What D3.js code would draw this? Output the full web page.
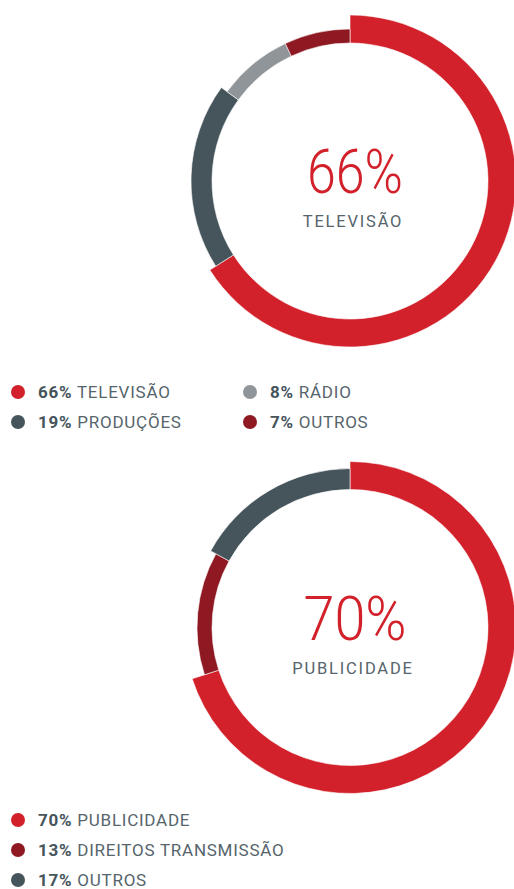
<!DOCTYPE html>
<html>
<head>
<meta charset="utf-8">
<script src="https://cdn.jsdelivr.net/npm/d3@7"></script>
<style>
  html, body { margin: 0; padding: 0; background: #fff; }
  svg { display: block; }
  text { font-family: Roboto, "Noto Sans", sans-serif; }
</style>
</head>
<body>
<svg id="chart" width="514" height="889"></svg>
<script>
// ---- data ----
const chart1Labels = ["TELEVISÃO", "PRODUÇÕES", "RÁDIO", "OUTROS"];
const chart1Values = [66, 19, 8, 7];
const chart1Colors = ["#d2212b", "#46555c", "#8f9599", "#8e1922"];
const chart1Thick  = [28, 21, 14, 14];
const chart1LegendOrder = [0, 2, 1, 3]; // grid: row-major in 2 columns

const chart2Labels = ["PUBLICIDADE", "DIREITOS TRANSMISSÃO", "OUTROS"];
const chart2Values = [70, 13, 17];
const chart2Colors = ["#d2212b", "#8e1922", "#46555c"];
const chart2Thick  = [28, 15, 21];

const svg = d3.select("#chart");
const innerR = 138;

function donut(cx, cy, labels, values, colors, thick, centerW) {
  const g = svg.append("g").attr("transform", `translate(${cx},${cy})`);
  const pie = d3.pie().sort(null).value(d => d.v);
  const data = values.map((v, i) => ({v, c: colors[i], t: thick[i]}));
  g.selectAll("path").data(pie(data)).join("path")
    .attr("d", d => d3.arc().innerRadius(innerR).outerRadius(innerR + d.data.t)(d))
    .attr("fill", d => d.data.c)
    .attr("stroke", "#fff").attr("stroke-width", 0.6);
  g.append("text")
    .attr("x", 5).attr("y", 12)
    .attr("text-anchor", "middle")
    .attr("font-size", 61).attr("font-weight", 300)
    .attr("fill", "#d2212b")
    .attr("textLength", centerW[0]).attr("lengthAdjust", "spacingAndGlyphs")
    .text(values[0] + "%");
  g.append("text")
    .attr("x", 3).attr("y", 46)
    .attr("text-anchor", "middle")
    .attr("font-size", 16.5).attr("font-weight", 400)
    .attr("fill", "#56646b")
    .attr("letter-spacing", 1.8)
    .text(labels[0]);
}

donut(350, 181, chart1Labels, chart1Values, chart1Colors, chart1Thick, [96]);
donut(350, 627.5, chart2Labels, chart2Values, chart2Colors, chart2Thick, [103]);

function legendItem(x, y, color, value, label) {
  const g = svg.append("g").attr("transform", `translate(${x},${y})`);
  g.append("circle").attr("cx", 0).attr("cy", 0).attr("r", 7).attr("fill", color);
  const t = g.append("text").attr("x", 20).attr("y", 6)
    .attr("font-size", 17).attr("fill", "#56646b")
    .attr("letter-spacing", 0.75);
  t.append("tspan").attr("font-weight", 700).attr("fill", "#46555c").text(value + "%");
  t.append("tspan").text(" " + label);
}

chart1LegendOrder.forEach((idx, k) => {
  const col = k % 2, row = Math.floor(k / 2);
  legendItem(18 + col * 232, 392 + row * 30, chart1Colors[idx], chart1Values[idx], chart1Labels[idx]);
});
chart2Labels.forEach((l, i) => {
  legendItem(18, 820 + i * 30, chart2Colors[i], chart2Values[i], l);
});
</script>
</body>
</html>
